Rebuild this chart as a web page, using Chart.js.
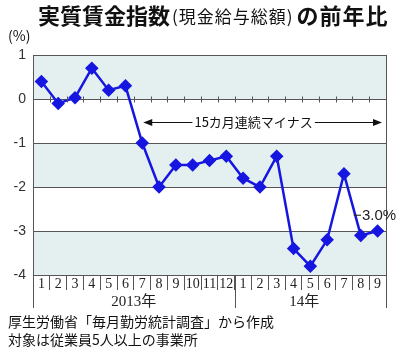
<!DOCTYPE html>
<html><head><meta charset="utf-8">
<script src="https://cdn.jsdelivr.net/npm/chart.js@4"></script>
<style>html,body{margin:0;padding:0;background:#fff}canvas{display:block}</style>
</head><body>
<canvas id="c" width="400" height="355"></canvas>
<script>
const months = ['1','2','3','4','5','6','7','8','9','10','11','12','1','2','3','4','5','6','7','8','9'];
const values = [0.4,-0.1,0.03,0.7,0.2,0.3,-1.0,-2.0,-1.5,-1.5,-1.4,-1.3,-1.8,-2.0,-1.3,-3.4,-3.8,-3.2,-1.7,-3.1,-3.0];
const yearLabels = ['2013年','14年'];
const yearStarts = [0,12];
const yearEnds = [11,20];
const bands = [[1,0],[-1,-2],[-3,-4]];
const titleMain = '実質賃金指数';
const titleSub = '(現金給与総額)';
const titleEnd = 'の前年比';
const unitLabel = '(%)';
const arrowText = '15カ月連続マイナス';
const arrowFromIndex = 6;
const arrowValue = -0.52;
const lastLabel = '−3.0%';
const notes = ['厚生労働省「毎月勤労統計調査」から作成','対象は従業員5人以上の事業所'];

const BLUE = '#1616e0';
const GRID = '#555';
const CJK = '"Noto Sans CJK JP", sans-serif';

const deco = {
  id: 'deco',
  beforeDraw(chart) {
    const {ctx, chartArea: a, scales: {x, y}} = chart;
    ctx.save();
    ctx.fillStyle = '#e4eff0';
    bands.forEach(([t, b]) => {
      const yt = y.getPixelForValue(t), yb = y.getPixelForValue(b);
      ctx.fillRect(a.left, yt, a.right - a.left, yb - yt);
    });
    ctx.restore();
  },
  afterDraw(chart) {
    const {ctx, chartArea: a, scales: {x, y}} = chart;
    const step = (a.right - a.left) / months.length;
    ctx.save();
    ctx.strokeStyle = GRID; ctx.lineWidth = 1;
    ctx.beginPath();
    ctx.moveTo(Math.round(a.right) + 0.5, a.top);
    ctx.lineTo(Math.round(a.right) + 0.5, a.bottom + 33);
    ctx.stroke();
    ctx.beginPath();
    ctx.moveTo(Math.round(a.left) + 0.5, a.bottom);
    ctx.lineTo(Math.round(a.left) + 0.5, a.bottom + 33);
    ctx.stroke();
    yearStarts.slice(1).forEach(i => {
      const px = Math.round(x.getPixelForValue(i) - step / 2) + 0.5;
      ctx.beginPath(); ctx.moveTo(px, a.bottom); ctx.lineTo(px, a.bottom + 33); ctx.stroke();
    });
    const y0 = Math.round(y.getPixelForValue(0)) + 0.5;
    for (let i = 1; i < months.length; i++) {
      const px = Math.round(x.getPixelForValue(i) - step / 2) + 0.5;
      ctx.beginPath(); ctx.moveTo(px, y0 - 3); ctx.lineTo(px, y0 + 3); ctx.stroke();
    }
    ctx.fillStyle = '#222';
    ctx.font = '15px "Liberation Serif", ' + CJK;
    ctx.textAlign = 'center'; ctx.textBaseline = 'middle';
    yearLabels.forEach((t, k) => {
      const l = x.getPixelForValue(yearStarts[k]) - step / 2;
      const r = x.getPixelForValue(yearEnds[k]) + step / 2;
      ctx.fillText(t, (l + r) / 2 - (k === 1 ? 6 : 0), a.bottom + 27);
    });
    const ay = Math.round(y.getPixelForValue(arrowValue)) + 0.5;
    const ax1 = x.getPixelForValue(arrowFromIndex) + 1;
    const ax2 = a.right - 4;
    ctx.strokeStyle = '#111'; ctx.fillStyle = '#111'; ctx.lineWidth = 1;
    ctx.font = '13px ' + CJK;
    const tw = ctx.measureText(arrowText).width;
    const tc = (ax1 + ax2) / 2 - 9;
    ctx.beginPath();
    ctx.moveTo(ax1 + 6, ay); ctx.lineTo(tc - tw / 2 - 2, ay);
    ctx.moveTo(tc + tw / 2 + 2, ay); ctx.lineTo(ax2 - 6, ay);
    ctx.stroke();
    ctx.beginPath(); ctx.moveTo(ax1, ay); ctx.lineTo(ax1 + 9, ay - 3.5); ctx.lineTo(ax1 + 9, ay + 3.5); ctx.closePath(); ctx.fill();
    ctx.beginPath(); ctx.moveTo(ax2, ay); ctx.lineTo(ax2 - 9, ay - 3.5); ctx.lineTo(ax2 - 9, ay + 3.5); ctx.closePath(); ctx.fill();
    ctx.textAlign = 'center'; ctx.textBaseline = 'middle';
    ctx.fillText(arrowText, tc, ay);
    const lx = x.getPixelForValue(values.length - 1), ly = y.getPixelForValue(values[values.length - 1]);
    ctx.font = '15px "Liberation Sans", sans-serif';
    ctx.fillStyle = '#222';
    ctx.fillText(lastLabel, lx - 3, ly - 15);
    ctx.textAlign = 'left'; ctx.textBaseline = 'middle';
    ctx.fillStyle = '#111';
    ctx.font = 'bold 22px ' + CJK;
    let tx = 38;
    ctx.fillText(titleMain, tx, 16);
    tx += ctx.measureText(titleMain).width + 2;
    ctx.font = '17px ' + CJK;
    ctx.letterSpacing = '1px';
    ctx.fillText(titleSub, tx, 17);
    tx += ctx.measureText(titleSub).width + 3;
    ctx.letterSpacing = '0px';
    ctx.font = 'bold 22px ' + CJK;
    ctx.letterSpacing = '1px';
    ctx.fillText(titleEnd, tx, 16);
    ctx.letterSpacing = '0px';
    ctx.font = '14px ' + CJK;
    ctx.fillText(unitLabel, 8, 36);
    ctx.font = '14px ' + CJK;
    ctx.fillText(notes[0], 8, 322);
    ctx.fillText(notes[1], 8, 340);
    ctx.restore();
  }
};

new Chart(document.getElementById('c'), {
  type: 'line',
  data: {
    labels: months,
    datasets: [{
      data: values,
      borderColor: BLUE,
      backgroundColor: BLUE,
      borderWidth: 2.5,
      pointStyle: 'rectRot',
      pointRadius: 5,
      pointHoverRadius: 5,
      tension: 0
    }]
  },
  options: {
    responsive: false,
    animation: false,
    events: [],
    layout: { padding: { top: 55, right: 14, bottom: 47, left: 0 } },
    plugins: { legend: { display: false }, tooltip: { enabled: false }, title: { display: false } },
    scales: {
      x: {
        offset: true,
        grid: { offset: true, drawOnChartArea: false, drawTicks: true, tickLength: 15, color: GRID, lineWidth: 1 },
        border: { display: false },
        ticks: { padding: -14, autoSkip: false, maxRotation: 0, color: '#222', font: { family: '"Liberation Serif", serif', size: 14 } },
        afterFit: s => { s.height = 33; }
      },
      y: {
        min: -4, max: 1,
        ticks: { stepSize: 1, padding: 7, color: '#333', font: { family: '"Liberation Sans", sans-serif', size: 14 } },
        grid: { color: GRID, drawTicks: false, lineWidth: 1 },
        border: { display: true, color: GRID },
        afterFit: s => { s.height = undefined; s.width = 33; }
      }
    }
  },
  plugins: [deco]
});
</script>
</body></html>
